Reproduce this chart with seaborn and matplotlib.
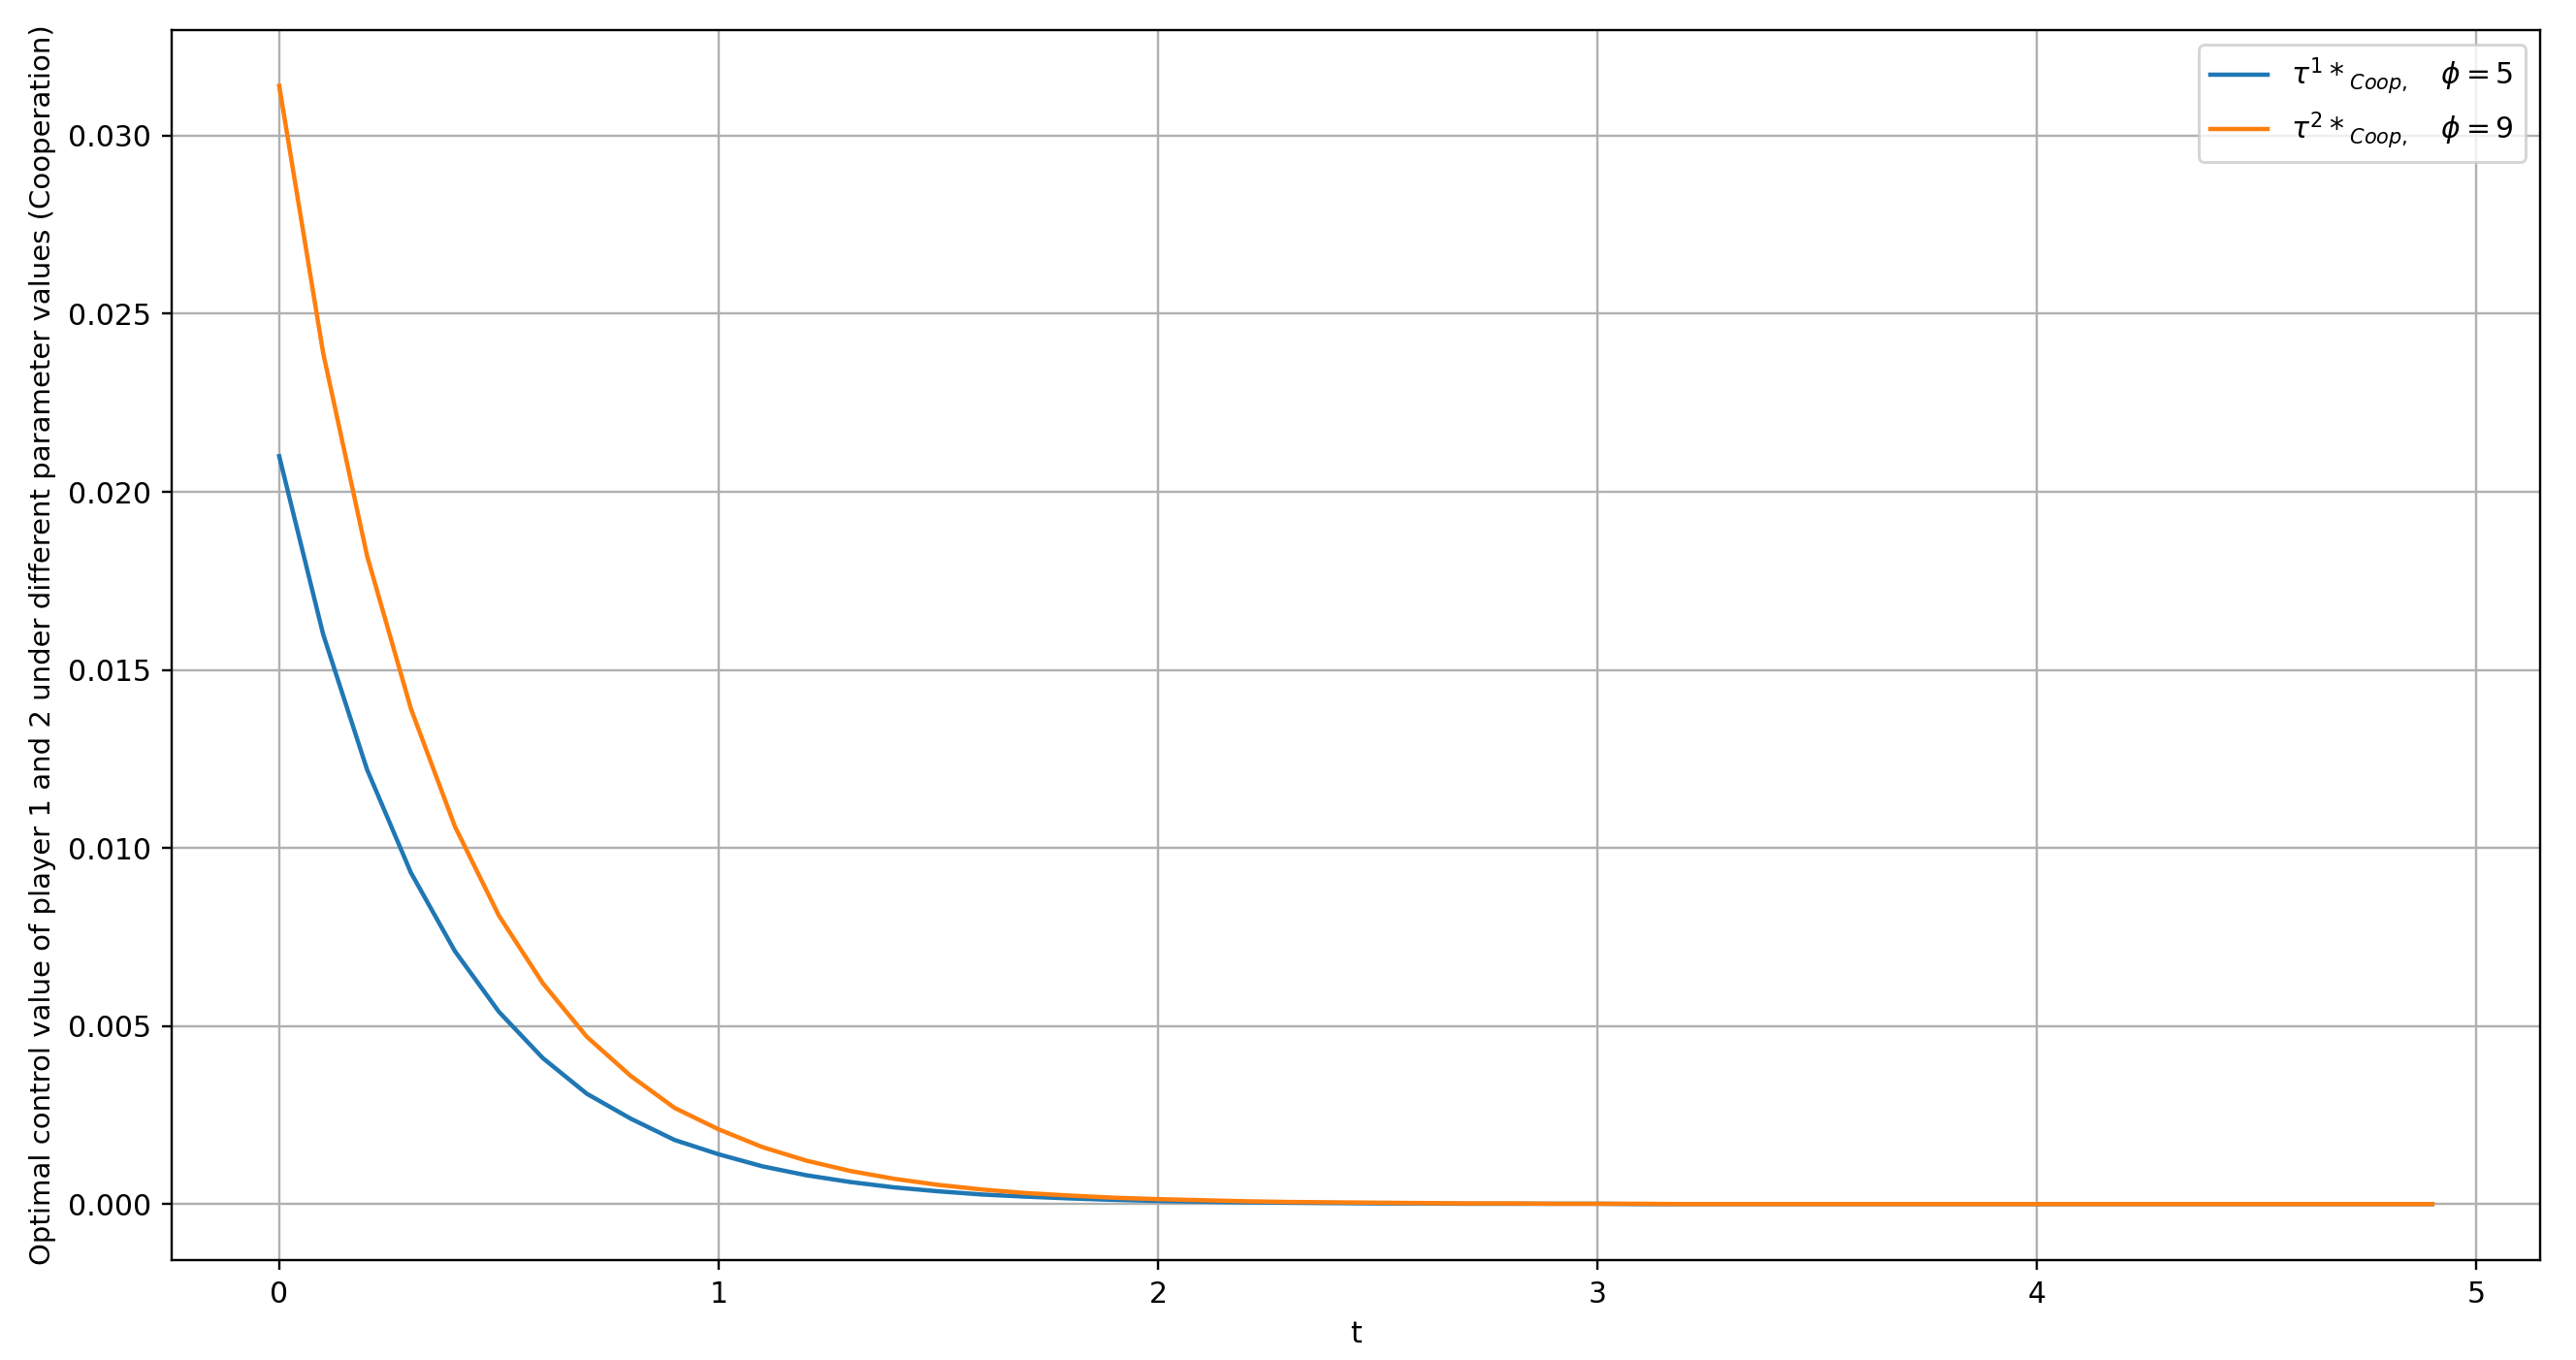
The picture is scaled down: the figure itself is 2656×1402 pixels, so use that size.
import numpy as np
import pandas as pd
import seaborn as sns
import matplotlib
matplotlib.use("Agg")
import matplotlib.pyplot as plt

# time grid 0.0 .. 4.9, step 0.1
t = [round(0.1 * i, 1) for i in range(50)]

tau1_coop = [
    0.0210, 0.0160, 0.0122, 0.0093, 0.0071, 0.0054, 0.0041, 0.0031, 0.0024, 0.0018,
    0.00140, 0.00106, 0.00081, 0.00062, 0.00047, 0.00036, 0.00027, 0.00021, 0.00016, 0.00012,
    0.00009, 0.00007, 0.00005, 0.00004, 0.00003, 0.00002, 0.00002, 0.00001, 0.00001, 0.00001,
    0.00001, 0.0, 0.0, 0.0, 0.0, 0.0, 0.0, 0.0, 0.0, 0.0,
    0.0, 0.0, 0.0, 0.0, 0.0, 0.0, 0.0, 0.0, 0.0, 0.0,
]
tau2_coop = [
    0.0314, 0.0239, 0.0182, 0.0139, 0.0106, 0.0081, 0.0062, 0.0047, 0.0036, 0.0027,
    0.00210, 0.00160, 0.00122, 0.00093, 0.00071, 0.00054, 0.00041, 0.00031, 0.00024, 0.00018,
    0.00014, 0.00011, 0.00008, 0.00006, 0.00005, 0.00004, 0.00003, 0.00002, 0.00002, 0.00001,
    0.00001, 0.00001, 0.0, 0.0, 0.0, 0.0, 0.0, 0.0, 0.0, 0.0,
    0.0, 0.0, 0.0, 0.0, 0.0, 0.0, 0.0, 0.0, 0.0, 0.0,
]
labels = [r"$\tau^1*_{Coop,}\quad\phi = 5$", r"$\tau^2*_{Coop,}\quad\phi = 9$"]
colors = ["#1f77b4", "#ff7f0e"]

df = pd.concat([
    pd.DataFrame({"t": t, "value": tau1_coop, "series": labels[0]}),
    pd.DataFrame({"t": t, "value": tau2_coop, "series": labels[1]}),
])

fig = plt.figure(figsize=(2656 / 215, 1402 / 215), dpi=215)
ax = fig.add_axes([0.0666, 0.0735, 0.9194, 0.9045])

sns.lineplot(data=df, x="t", y="value", hue="series", palette=colors, ax=ax)

ax.grid(True)
ax.set_xlabel("t")
ax.set_ylabel("Optimal control value of player 1 and 2 under different parameter values (Cooperation)",
              fontsize=9.75)
ax.legend(loc="upper right")

fig.savefig("out.png", dpi=215)
